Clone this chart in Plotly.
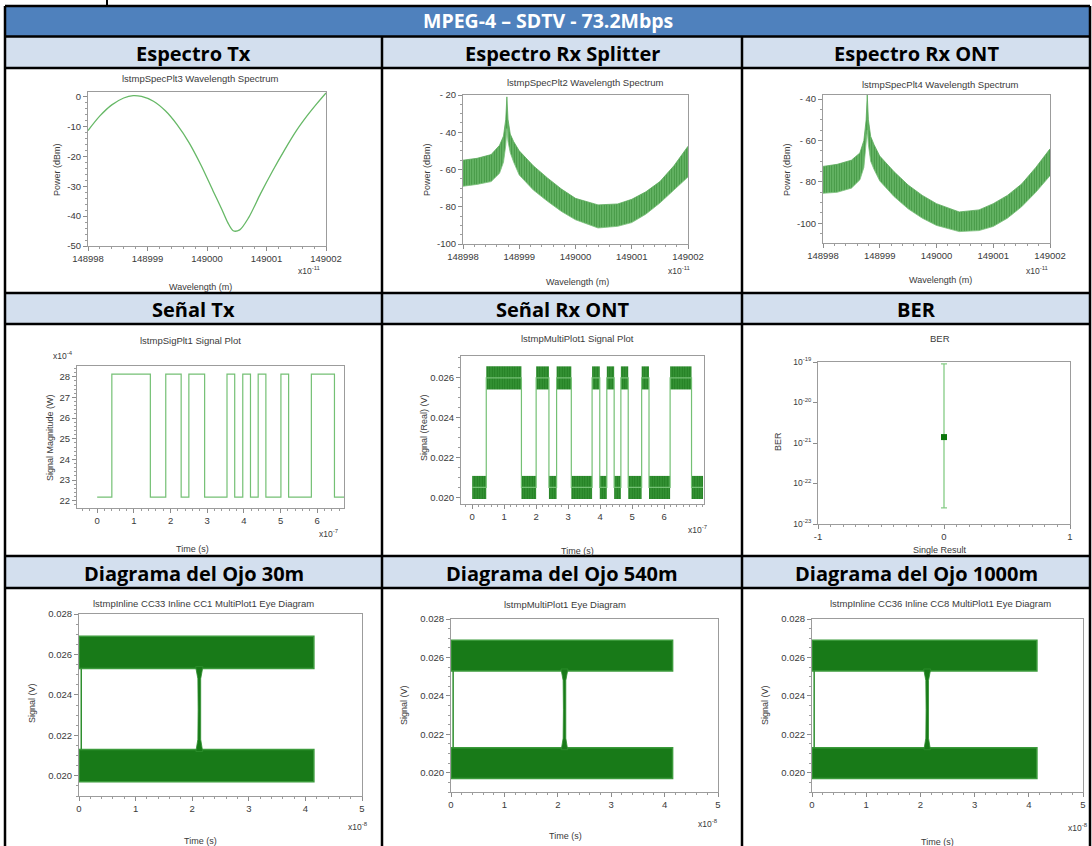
import plotly.graph_objects as go

W, H = 1092, 846

# ---------------- data ----------------
# Espectro Tx (wavelength in x1e-11 m, power in dBm)
spec_tx_wl = [148998.0, 148998.2, 148998.4, 148998.6, 148998.76, 148998.9, 148999.1,
              148999.3, 148999.5, 148999.7, 148999.9, 149000.1, 149000.25, 149000.35,
              149000.44, 149000.55, 149000.7, 149000.9, 149001.1, 149001.3, 149001.5,
              149001.7, 149001.85, 149002.0]
spec_tx_dbm = [-11.4, -6.5, -2.8, -0.5, 0.3, 0.0, -1.6, -4.8, -9.5, -15.5, -23.0, -31.5,
               -37.8, -42.2, -44.9, -44.6, -40.5, -32.5, -25.0, -18.0, -11.5, -6.0, -2.3, 1.2]

# Espectro Rx (noisy band: upper / lower envelope)
spec_rx_wl = [148998.0, 148998.25, 148998.5, 148998.65, 148998.72, 148998.76, 148998.78,
              148998.80, 148998.84, 148998.9, 148999.0, 148999.25, 148999.5, 148999.75,
              149000.0, 149000.4, 149000.75, 149001.0, 149001.25, 149001.5, 149001.75, 149002.0]
spec_split_hi = [-55, -54, -52, -47, -42, -33, -21, -33, -41, -45, -50, -58, -64.5, -70.5,
                 -75.5, -79, -78.5, -76, -72, -66.5, -58, -47.5]
spec_split_lo = [-69, -68, -66.5, -62, -56, -47, -38, -45, -51, -56, -63, -71, -77, -82.5,
                 -87, -91.4, -90.5, -88.5, -84, -78, -71, -64]
spec_ont_hi = [-72.5, -71.5, -69.5, -66, -60, -50, -38, -50, -58, -62, -67.5, -75, -81.5,
               -86.5, -90.5, -94.5, -93.5, -90.5, -86.5, -81, -73, -64]
spec_ont_lo = [-85.5, -85, -83, -79, -73, -63, -55, -62, -70, -74, -79.5, -87, -93, -97.5,
               -101, -104, -103.5, -101.5, -97.5, -92, -85, -77]

# Señal Tx / Rx: bit sequence and transition times
sig_bits = [0, 1, 0, 1, 0, 1, 0, 1, 0, 1, 0, 1, 0, 1, 0, 1, 0]
sig_tx_edges = [0.0, 0.40, 1.45, 1.87, 2.29, 2.50, 2.93, 3.54, 3.75, 3.97, 4.18, 4.39,
                4.60, 5.01, 5.22, 5.84, 6.47, 6.75]          # x1e-7 s
sig_tx_levels = [22.18, 28.13]                              # x1e-4 W
sig_rx_edges = [0.0, 0.44, 1.54, 2.0, 2.40, 2.64, 3.10, 3.75, 3.99, 4.21, 4.44, 4.65,
                4.88, 5.30, 5.53, 6.19, 6.86, 7.22]          # x1e-7 s
sig_rx_levels = [0.0205, 0.0260]                            # V
sig_rx_noise = 0.00058                                      # half width of noise band

# BER
ber_value = 1.4e-21
ber_upper = 9.0e-20
ber_lower = 2.5e-23

# Eye diagrams (time in x1e-8 s)
eye_span = [0.0, 4.15]
eye_high_band = [0.0253, 0.0269]
eye_low_band = [0.0197, 0.0213]
eye_edge_t = 0.04
eye_cross_t = [2.06, 2.10, 2.105, 2.10, 2.065, 2.185, 2.15, 2.145, 2.15, 2.19]
eye_cross_v = [0.0254, 0.0248, 0.0233, 0.0218, 0.0212, 0.0212, 0.0218, 0.0233, 0.0248, 0.0254]

# tick labels
spec_x_ticks = [148998, 148999, 149000, 149001, 149002]
spec_x_labels = ["148998", "148999", "149000", "149001", "149002"]
spec_tx_yticks = [0, -10, -20, -30, -40, -50]
spec_tx_ylabels = ["0", "-10", "-20", "-30", "-40", "-50"]
split_yticks = [-20, -40, -60, -80, -100]
split_ylabels = ["- 20", "- 40", "- 60", "- 80", "-100"]
ont_yticks = [-40, -60, -80, -100]
ont_ylabels = ["- 40", "- 60", "- 80", "-100"]
sig_tx_yticks = [22, 23, 24, 25, 26, 27, 28]
sig_tx_ylabels = ["22", "23", "24", "25", "26", "27", "28"]
time7_ticks = [0, 1, 2, 3, 4, 5, 6]
time7_labels = ["0", "1", "2", "3", "4", "5", "6"]
rx_yticks = [0.020, 0.022, 0.024, 0.026]
rx_ylabels = ["0.020", "0.022", "0.024", "0.026"]
ber_yticks = [1e-23, 1e-22, 1e-21, 1e-20, 1e-19]
ber_ylabels = ["10<sup>-23</sup>", "10<sup>-22</sup>", "10<sup>-21</sup>", "10<sup>-20</sup>", "10<sup>-19</sup>"]
ber_xticks = [-1, 0, 1]
ber_xlabels = ["-1", "0", "1"]
eye_yticks = [0.020, 0.022, 0.024, 0.026, 0.028]
eye_ylabels = ["0.020", "0.022", "0.024", "0.026", "0.028"]
eye_xticks = [0, 1, 2, 3, 4, 5]
eye_xlabels = ["0", "1", "2", "3", "4", "5"]

# headers
main_header = "MPEG-4 – SDTV - 73.2Mbps"
row_headers = [["Espectro Tx", "Espectro Rx Splitter", "Espectro Rx ONT"],
               ["Señal Tx", "Señal Rx ONT", "BER"],
               ["Diagrama del Ojo 30m", "Diagrama del Ojo 540m", "Diagrama del Ojo 1000m"]]

# ---------------- layout geometry (pixels) ----------------
col_x = [5, 382, 742, 1090]
row_head_y = [(37, 68), (293, 324), (556, 588)]
boxes = [  # left, right, top, bottom of each plot frame
    (88, 326, 92, 246), (463, 688, 95, 244), (823, 1050, 95, 243),
    (77, 344, 366, 508), (461, 704, 356, 504), (818, 1070, 362, 524),
    (79, 362, 614, 796), (451, 718, 619, 792), (812, 1083, 619, 792)]

def px(x):
    return x / W

def py(y):
    return 1 - y / H

fig = go.Figure()

GREEN_LINE = "#66b866"
DARK_GREEN = "#187a18"
TXT = "#3a3a3a"
FONT = "Liberation Sans, Arial, sans-serif"


def axref(i):
    return ("x" if i == 1 else f"x{i}"), ("y" if i == 1 else f"y{i}")


# Panel 1: Espectro Tx
xa, ya = axref(1)
fig.add_trace(go.Scatter(x=spec_tx_wl, y=spec_tx_dbm, mode="lines",
                         line=dict(color=GREEN_LINE, width=1.3, shape="spline", smoothing=0.8),
                         xaxis=xa, yaxis=ya, showlegend=False))

# Panels 2 & 3: Rx spectra
for i, (hi, lo) in zip([2, 3], [(spec_split_hi, spec_split_lo), (spec_ont_hi, spec_ont_lo)]):
    xa, ya = axref(i)
    fig.add_trace(go.Scatter(x=spec_rx_wl, y=hi, mode="lines",
                             line=dict(color="#5aaa5a", width=0.8),
                             xaxis=xa, yaxis=ya, showlegend=False))
    fig.add_trace(go.Scatter(x=spec_rx_wl, y=lo, mode="lines",
                             line=dict(color="#7cc07c", width=0.8), fill="tonexty",
                             fillcolor="#4ea64e",
                             fillpattern=dict(shape="|", fgcolor="#116c11", bgcolor="#6fbd6f",
                                              size=2.5, solidity=0.5),
                             xaxis=xa, yaxis=ya, showlegend=False))

# Panel 4: Señal Tx
xa, ya = axref(4)
tx_y = [sig_tx_levels[b] for b in sig_bits] + [sig_tx_levels[sig_bits[-1]]]
fig.add_trace(go.Scatter(x=sig_tx_edges, y=tx_y, mode="lines",
                         line=dict(color="#74c074", width=1.2, shape="hv"),
                         xaxis=xa, yaxis=ya, showlegend=False))

# Panel 5: Señal Rx ONT
xa, ya = axref(5)
rx_y = [sig_rx_levels[b] for b in sig_bits] + [sig_rx_levels[sig_bits[-1]]]
fig.add_trace(go.Scatter(x=sig_rx_edges, y=rx_y, mode="lines",
                         line=dict(color="#74c074", width=1.2, shape="hv"),
                         xaxis=xa, yaxis=ya, showlegend=False))
seg_mid = [(a + b) / 2 for a, b in zip(sig_rx_edges[:-1], sig_rx_edges[1:])]
seg_w = [b - a for a, b in zip(sig_rx_edges[:-1], sig_rx_edges[1:])]
seg_base = [sig_rx_levels[b] - sig_rx_noise for b in sig_bits]
fig.add_trace(go.Bar(x=seg_mid, width=seg_w, base=seg_base, y=[2 * sig_rx_noise] * len(sig_bits),
                     marker=dict(color="#2a8a2a", line=dict(width=0),
                                 pattern=dict(shape="|", fgcolor="#0c630c", bgcolor="#3a9a3a",
                                              size=2.5, solidity=0.55)),
                     xaxis=xa, yaxis=ya, showlegend=False))

# Panel 6: BER
xa, ya = axref(6)
fig.add_trace(go.Scatter(x=[0], y=[ber_value], mode="markers",
                         marker=dict(symbol="square", size=6, color="#0b760b"),
                         error_y=dict(type="data", symmetric=False,
                                      array=[ber_upper - ber_value],
                                      arrayminus=[ber_value - ber_lower],
                                      color="#86cc86", thickness=1.3, width=3),
                         xaxis=xa, yaxis=ya, showlegend=False))

# Panels 7-9: eye diagrams
for i in [7, 8, 9]:
    xa, ya = axref(i)
    for band in (eye_high_band, eye_low_band):
        fig.add_trace(go.Scatter(x=[eye_span[0], eye_span[1], eye_span[1], eye_span[0], eye_span[0]],
                                 y=[band[0], band[0], band[1], band[1], band[0]],
                                 mode="lines", fill="toself", fillcolor=DARK_GREEN,
                                 line=dict(color="#3b9a3b", width=1.5),
                                 xaxis=xa, yaxis=ya, showlegend=False))
    fig.add_trace(go.Scatter(x=eye_cross_t + [eye_cross_t[0]], y=eye_cross_v + [eye_cross_v[0]],
                             mode="lines", fill="toself", fillcolor=DARK_GREEN,
                             line=dict(color="#2f8f2f", width=0.8),
                             xaxis=xa, yaxis=ya, showlegend=False))
    fig.add_trace(go.Scatter(x=[eye_edge_t, eye_edge_t], y=[eye_low_band[1], eye_high_band[0]],
                             mode="lines", line=dict(color="#2f8f2f", width=1.5),
                             xaxis=xa, yaxis=ya, showlegend=False))

# ---------------- axes ----------------
axis_specs = {
    1: dict(xr=[148998, 149002], yr=[-50, 1.5], xt=(spec_x_ticks, spec_x_labels),
            yt=(spec_tx_yticks, spec_tx_ylabels), xm=0.2, ym=2, ytype="linear"),
    2: dict(xr=[148998, 149002], yr=[-100, -20], xt=(spec_x_ticks, spec_x_labels),
            yt=(split_yticks, split_ylabels), xm=0.2, ym=5, ytype="linear"),
    3: dict(xr=[148998, 149002], yr=[-109.5, -38], xt=(spec_x_ticks, spec_x_labels),
            yt=(ont_yticks, ont_ylabels), xm=0.2, ym=5, ytype="linear"),
    4: dict(xr=[-0.55, 6.73], yr=[21.65, 28.52], xt=(time7_ticks, time7_labels),
            yt=(sig_tx_yticks, sig_tx_ylabels), xm=0.2, ym=0.2, ytype="linear"),
    5: dict(xr=[-0.35, 7.25], yr=[0.01967, 0.0271], xt=(time7_ticks, time7_labels),
            yt=(rx_yticks, rx_ylabels), xm=0.2, ym=0.0005, ytype="linear"),
    6: dict(xr=[-1, 1], yr=[-23, -19], xt=(ber_xticks, ber_xlabels),
            yt=(ber_yticks, ber_ylabels), xm=0.1, ym=None, ytype="log"),
    7: dict(xr=[0, 5], yr=[0.019, 0.028], xt=(eye_xticks, eye_xlabels),
            yt=(eye_yticks, eye_ylabels), xm=0.2, ym=0.0005, ytype="linear"),
    8: dict(xr=[0, 5], yr=[0.019, 0.028], xt=(eye_xticks, eye_xlabels),
            yt=(eye_yticks, eye_ylabels), xm=0.2, ym=0.0005, ytype="linear"),
    9: dict(xr=[0, 5], yr=[0.019, 0.028], xt=(eye_xticks, eye_xlabels),
            yt=(eye_yticks, eye_ylabels), xm=0.2, ym=0.0005, ytype="linear"),
}

layout_axes = {}
for i, spec in axis_specs.items():
    l, r, t, b = boxes[i - 1]
    xa, ya = axref(i)
    common = dict(showline=True, mirror=True, linecolor="#9c9c9c", linewidth=1,
                  ticks="outside", ticklen=4, tickcolor="#8c8c8c", tickwidth=1,
                  showgrid=False, zeroline=False, fixedrange=True, automargin=False,
                  tickfont=dict(family=FONT, size=9.5, color=TXT), tickmode="array")
    xd = dict(common, domain=[px(l), px(r)], range=spec["xr"], anchor=ya,
              tickvals=spec["xt"][0], ticktext=spec["xt"][1],
              minor=dict(dtick=spec["xm"], tick0=0, ticks="outside", ticklen=2,
                         tickcolor="#9c9c9c"))
    yd = dict(common, domain=[py(b), py(t)], range=spec["yr"], anchor=xa, type=spec["ytype"],
              tickvals=spec["yt"][0], ticktext=spec["yt"][1])
    if spec["ym"] is not None:
        yd["minor"] = dict(dtick=spec["ym"], tick0=0, ticks="outside", ticklen=2,
                           tickcolor="#9c9c9c")
    if i == 6:
        yd["tickfont"] = dict(family=FONT, size=8.5, color=TXT)
    layout_axes["xaxis" if i == 1 else f"xaxis{i}"] = xd
    layout_axes["yaxis" if i == 1 else f"yaxis{i}"] = yd

# ---------------- annotations ----------------
anns = []


def ann(text, x, y, size=8.5, color=TXT, angle=0, family=FONT, xanchor="center"):
    anns.append(dict(text=text, x=px(x), y=py(y), xref="paper", yref="paper",
                     showarrow=False, xanchor=xanchor, yanchor="middle", textangle=angle,
                     font=dict(family=family, size=size, color=color)))


HEAD_FONT = "Open Sans, Lato, sans-serif"
ann("<b>" + main_header + "</b>", (col_x[0] + col_x[3]) / 2, 21, size=19.5, color="white",
    family=HEAD_FONT)
for r, (y0, y1) in enumerate(row_head_y):
    for c in range(3):
        ann("<b>" + row_headers[r][c] + "</b>", (col_x[c] + col_x[c + 1]) / 2, (y0 + y1) / 2 + 1,
            size=20, color="black", family=HEAD_FONT)

plot_titles = ["lstmpSpecPlt3 Wavelength Spectrum", "lstmpSpecPlt2 Wavelength Spectrum",
               "lstmpSpecPlt4 Wavelength Spectrum", "lstmpSigPlt1 Signal Plot",
               "lstmpMultiPlot1 Signal Plot", "BER",
               "lstmpInline CC33 Inline CC1 MultiPlot1 Eye Diagram",
               "lstmpMultiPlot1 Eye Diagram",
               "lstmpInline CC36 Inline CC8 MultiPlot1 Eye Diagram"]
title_pos = [(200, 78), (585, 83), (940, 84), (190, 340), (577, 338), (940, 338),
             (203, 603), (565, 604), (940, 603)]
for t, (x, y) in zip(plot_titles, title_pos):
    ann(t, x, y, size=9.5)

ylab = [("Power (dBm)", 57, 170), ("Power (dBm)", 427, 170), ("Power (dBm)", 787, 170),
        ("Signal Magnitude (W)", 50, 438), ("Signal (Real) (V)", 424, 428), ("BER", 778, 442),
        ("Signal (V)", 32, 703), ("Signal (V)", 404, 705), ("Signal (V)", 765, 705)]
for t, x, y in ylab:
    ann(t, x, y, size=9, angle=-90)

xlab = [("Wavelength (m)", 200, 287), ("Wavelength (m)", 577, 282), ("Wavelength (m)", 940, 280),
        ("Time (s)", 192, 549), ("Time (s)", 577, 551), ("Single Result", 940, 550),
        ("Time (s)", 200, 841), ("Time (s)", 565, 836), ("Time (s)", 937, 842)]
for t, x, y in xlab:
    ann(t, x, y, size=9)

scale_lab = [("x10<sup>-11</sup>", 309, 271), ("x10<sup>-11</sup>", 679, 271),
             ("x10<sup>-11</sup>", 1037, 270), ("x10<sup>-4</sup>", 63, 356),
             ("x10<sup>-7</sup>", 328, 533), ("x10<sup>-7</sup>", 697, 529),
             ("x10<sup>-8</sup>", 358, 826), ("x10<sup>-8</sup>", 708, 823),
             ("x10<sup>-8</sup>", 1078, 827)]
for t, x, y in scale_lab:
    ann(t, x, y, size=8.5)

# ---------------- table shapes ----------------
shapes = []


def rect(x0, y0, x1, y1, color):
    shapes.append(dict(type="rect", xref="paper", yref="paper", x0=px(x0), x1=px(x1),
                       y0=py(y1), y1=py(y0), fillcolor=color, line=dict(width=0), layer="below"))


def line(x0, y0, x1, y1, w=2.5):
    shapes.append(dict(type="line", xref="paper", yref="paper", x0=px(x0), x1=px(x1),
                       y0=py(y0), y1=py(y1), line=dict(color="black", width=w), layer="above"))


rect(col_x[0], 6, col_x[3], 36, "#4F81BD")
for y0, y1 in row_head_y:
    rect(col_x[0], y0, col_x[3], y1, "#D3DFEE")
for yy in [6, 36.5, 68, 293, 324, 556, 588]:
    line(col_x[0], yy, col_x[3], yy)
line(col_x[0], 6, col_x[0], 846)
line(col_x[3], 6, col_x[3], 846)
line(col_x[1], 36.5, col_x[1], 846)
line(col_x[2], 36.5, col_x[2], 846)
line(107, 0, 107, 5, w=2)

fig.update_layout(width=W, height=H,
                  margin=dict(l=0, r=0, t=0, b=0, pad=0, autoexpand=False),
                  paper_bgcolor="white", plot_bgcolor="white", showlegend=False,
                  annotations=anns, shapes=shapes, barmode="overlay", **layout_axes)

fig.write_html("out.html")
